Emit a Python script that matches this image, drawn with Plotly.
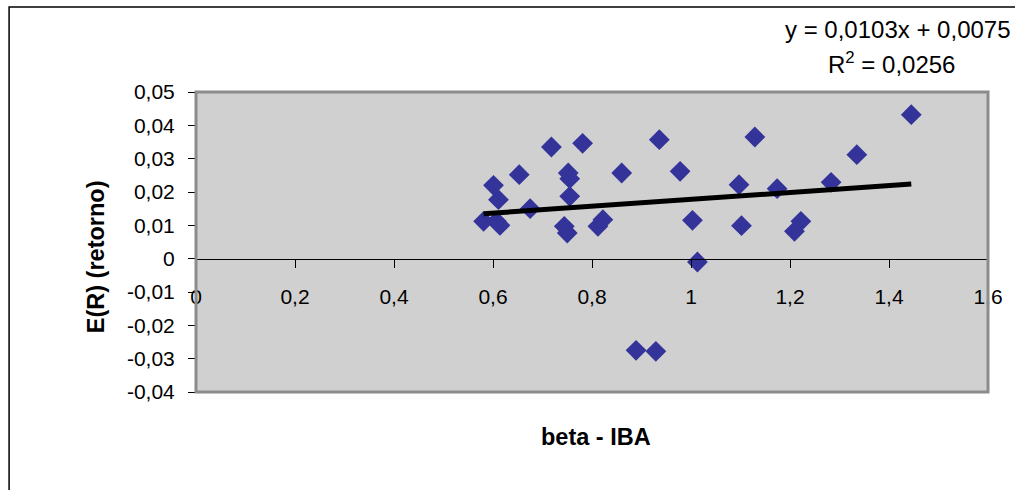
import plotly.graph_objects as go

beta = [0.581, 0.607, 0.611, 0.601, 0.614, 0.653, 0.718, 0.781, 0.675, 0.752,
        0.755, 0.755, 0.744, 0.750, 0.812, 0.822, 0.860, 0.936, 0.978, 1.003,
        1.013, 0.889, 0.929, 1.097, 1.129, 1.102, 1.174, 1.209, 1.222, 1.283,
        1.335, 1.445]
retorno = [0.0112, 0.0112, 0.0177, 0.0220, 0.0100, 0.0252, 0.0335, 0.0346, 0.0150, 0.0257,
           0.0240, 0.0187, 0.0097, 0.0077, 0.0097, 0.0117, 0.0257, 0.0357, 0.0262, 0.0115,
           -0.0010, -0.0275, -0.0278, 0.0222, 0.0365, 0.0099, 0.0210, 0.0082, 0.0112, 0.0229,
           0.0312, 0.0432]

slope = 0.0103
intercept = 0.0075
r2_text = "0,0256"

x_ticks = [0, 0.2, 0.4, 0.6, 0.8, 1.0, 1.2, 1.4, 1.6]
x_ticktext = ["0", "0,2", "0,4", "0,6", "0,8", "1", "1,2", "1,4", "1,6"]
y_ticks = [0.05, 0.04, 0.03, 0.02, 0.01, 0, -0.01, -0.02, -0.03, -0.04]
y_ticktext = ["0,05", "0,04", "0,03", "0,02", "0,01", "0", "-0,01", "-0,02", "-0,03", "-0,04"]

x_min, x_max = min(beta), max(beta)
trend_x = [x_min, x_max]
trend_y = [slope * v + intercept for v in trend_x]

FONT = "Liberation Sans, Arial, sans-serif"

fig = go.Figure()
fig.add_trace(go.Scatter(
    x=beta, y=retorno, mode="markers",
    marker=dict(symbol="diamond", size=16, color="#333399", line=dict(width=0)),
    showlegend=False, cliponaxis=False,
))
fig.add_trace(go.Scatter(
    x=trend_x, y=trend_y, mode="lines",
    line=dict(color="black", width=5), showlegend=False,
))

fig.update_layout(
    width=1015, height=490,
    margin=dict(l=196, r=23, t=92, b=98),
    paper_bgcolor="white",
    plot_bgcolor="#d0d0d0",
    font=dict(family=FONT, size=21, color="black"),
    xaxis=dict(
        range=[0, 1.6], tickvals=x_ticks, ticktext=x_ticktext,
        showgrid=False, zeroline=False,
        showline=True, linecolor="black", linewidth=1,
        ticks="outside", ticklen=8, tickcolor="black",
        anchor="free", position=0.04 / 0.09,
        ticklabelstandoff=11,
        tickfont=dict(size=21),
    ),
    yaxis=dict(
        range=[-0.04, 0.05], tickvals=y_ticks, ticktext=y_ticktext,
        showgrid=False, zeroline=False,
        showline=True, linecolor="black", linewidth=1,
        ticks="outside", ticklen=7, tickcolor="black",
        ticklabelstandoff=9,
        tickfont=dict(size=21),
    ),
    shapes=[
        dict(type="rect", xref="paper", yref="paper", x0=0, x1=1, y0=0, y1=1,
             line=dict(color="#8c8c8c", width=3), layer="above", fillcolor="rgba(0,0,0,0)"),
        dict(type="rect", xref="paper", yref="paper", x0=-0.236, x1=1.2, y0=-0.5, y1=1.283,
             line=dict(color="black", width=1.5), fillcolor="rgba(0,0,0,0)"),
    ],
    annotations=[
        dict(text="y = 0,0103x + 0,0075", xref="paper", yref="paper",
             x=1.031, y=1.207, xanchor="right", yanchor="middle", showarrow=False,
             font=dict(size=24)),
        dict(text="R<sup>2</sup> = " + r2_text, xref="paper", yref="paper",
             x=0.878, y=1.097, xanchor="center", yanchor="middle", showarrow=False,
             font=dict(size=24)),
        dict(text="<b>beta - IBA</b>", xref="paper", yref="paper",
             x=0.505, y=-0.15, xanchor="center", yanchor="middle", showarrow=False,
             font=dict(size=23.5)),
        dict(text="<b>E(R) (retorno)</b>", xref="paper", yref="paper",
             x=-0.126, y=0.45, xanchor="center", yanchor="middle", showarrow=False,
             textangle=-90, font=dict(size=23.5)),
    ],
)

fig.write_html("out.html")
